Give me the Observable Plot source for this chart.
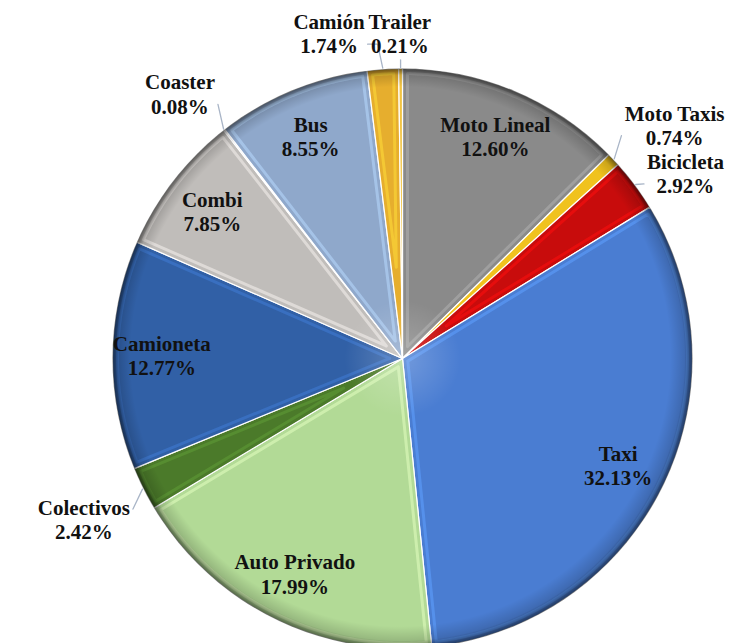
<!DOCTYPE html>
<html><head><meta charset="utf-8">
<script src="https://cdn.jsdelivr.net/npm/d3@7"></script>
<script src="https://cdn.jsdelivr.net/npm/@observablehq/plot@0.6"></script>
<style>
body{margin:0;background:#fff}
#chart svg text{font-family:"Liberation Serif","Times New Roman",serif !important;font-weight:bold;}
</style>
</head><body><div id="chart"></div>
<script>
// ---- data (clockwise from 12 o'clock) ----
const categories = ["Moto Lineal","Moto Taxis","Bicicleta","Taxi","Auto Privado","Colectivos","Camioneta","Combi","Coaster","Bus","Camión","Trailer"];
const shares = [12.60, 0.74, 2.92, 32.13, 17.99, 2.42, 12.77, 7.85, 0.08, 8.55, 1.74, 0.21];
const colors = ["#8a8a8a","#f0c21e","#c80c0c","#4a7dd2","#b2da96","#4b7a2a","#3160a6","#c0bdba","#cfcfcf","#8fa8cb","#e6ae2e","#f2c443"];

// ---- layout ----
const W = 743, H = 643, CX = 402, CY = 358, R = 290;
const FS = 21, LH = 1.15;
const total = d3.sum(shares);
const pt = (a, r) => [CX + r * Math.sin(a), CY - r * Math.cos(a)];
const ctx = document.createElement("canvas").getContext("2d");
ctx.font = `bold ${FS}px 'Liberation Serif', serif`;
const clamp = v => Math.max(-1, Math.min(1, v));

let acc = 0;
const slices = categories.map((name, i) => {
  const a0 = acc / total * 2 * Math.PI; acc += shares[i];
  const a1 = acc / total * 2 * Math.PI;
  return {name, share: shares[i], color: colors[i], a0, a1, mid: (a0 + a1) / 2};
});

// slice polygons
const slicePts = [];
const hiPts = [];
for (const s of slices) {
  const n = Math.max(2, Math.ceil((s.a1 - s.a0) / (Math.PI / 360)));
  slicePts.push({name: s.name, x: CX, y: CY, color: s.color});
  for (let k = 0; k <= n; k++) {
    const [x, y] = pt(s.a0 + (s.a1 - s.a0) * k / n, R);
    slicePts.push({name: s.name, x, y, color: s.color});
  }
  slicePts.push({name: s.name, x: CX, y: CY, color: s.color});
  // bevel highlight (inset outline)
  const half = (s.a1 - s.a0) / 2;
  if (half > 0.04) {
    const inset = 5, d = Math.min(R * 0.4, inset / Math.sin(Math.min(half, Math.PI / 2)));
    const [ax, ay] = pt(s.mid, d);
    const del = inset / (R - inset);
    const hc = d3.color(s.color).brighter(0.7).formatHex();
    hiPts.push({name: s.name, x: ax, y: ay, color: hc});
    const m = Math.max(2, Math.ceil((s.a1 - s.a0 - 2 * del) / (Math.PI / 360)));
    for (let k = 0; k <= m; k++) {
      const [x, y] = pt(s.a0 + del + (s.a1 - s.a0 - 2 * del) * k / m, R - inset);
      hiPts.push({name: s.name, x, y, color: hc});
    }
    hiPts.push({name: s.name, x: ax, y: ay, color: hc});
  }
}

// labels
const labels = slices.map(s => {
  const outside = s.share < 5;
  const pct = s.share.toFixed(2) + "%";
  const text = `${s.name}\n${pct}`;
  const w = Math.max(ctx.measureText(s.name).width, ctx.measureText(pct).width);
  const h = 2 * FS * LH;
  let x, y;
  if (outside) {
    const [ax, ay] = pt(s.mid, R + 15);
    x = ax + clamp(Math.sin(s.mid) / 0.35) * w / 2;
    y = ay + clamp(-Math.cos(s.mid) / 0.35) * h / 2;
    y = Math.max(y, h / 2 + 9);
  } else {
    [x, y] = pt(s.mid, R * 0.83);
  }
  const fromTop = Math.min(s.mid, 2 * Math.PI - s.mid);
  return {name: s.name, text, outside, x, y, w, h, mid: s.mid, fromTop};
});
// dodge overlapping outside labels: the one farther from 12 o'clock moves
const outs = labels.filter(d => d.outside);
for (let it = 0; it < 60; it++) {
  for (let i = 0; i < outs.length; i++) for (let j = i + 1; j < outs.length; j++) {
    const a = outs[i], b = outs[j];
    const dx = b.x - a.x, dy = b.y - a.y;
    const ox = (a.w + b.w) / 2 + 4 - Math.abs(dx), oy = (a.h + b.h) / 2 - Math.abs(dy);
    if (ox > 0 && oy > 0) {
      const wa = a.fromTop > b.fromTop ? 1 : 0, wb = 1 - wa;
      if (ox < oy) { const s = (dx >= 0 ? 1 : -1) * ox; a.x -= s * wa; b.x += s * wb; }
      else { const s = (dy >= 0 ? 1 : -1) * oy; a.y -= s * wa; b.y += s * wb; }
    }
  }
}
// leader lines
const leaderPts = [];
for (const d of outs) {
  const [sx, sy] = pt(d.mid, R + 1);
  const left = d.x - d.w / 2, right = d.x + d.w / 2, top = d.y - d.h / 2, bottom = d.y + d.h / 2;
  if (sx >= left - 4 && sx <= right + 4) {
    const ey = sy > d.y ? bottom + 2 : top - 2;
    if (Math.abs(sy - ey) > 6) leaderPts.push({name: d.name, x: sx, y: ey}, {name: d.name, x: sx, y: sy});
  } else {
    const side = sx > right ? 1 : -1;
    const ex = side > 0 ? right + 3 : left - 3;
    const ey = Math.min(bottom - 2, Math.max(top + 2, d.y + (sy > d.y ? 1 : -1) * FS * 0.5));
    const kx = ex + side * 10;
    if (Math.abs(sx - ex) > 12) leaderPts.push({name: d.name, x: ex, y: ey}, {name: d.name, x: kx, y: ey}, {name: d.name, x: sx, y: sy});
    else leaderPts.push({name: d.name, x: ex, y: ey}, {name: d.name, x: sx, y: sy});
  }
}

const defs = () => {
  const ns = "http://www.w3.org/2000/svg";
  const g = document.createElementNS(ns, "defs");
  g.innerHTML = `<radialGradient id="rim" cx="50%" cy="50%" r="50%" fx="45%" fy="45%">
      <stop offset="0" stop-color="#000" stop-opacity="0"/>
      <stop offset="0.93" stop-color="#000" stop-opacity="0"/>
      <stop offset="0.975" stop-color="#000" stop-opacity="0.15"/>
      <stop offset="1" stop-color="#000" stop-opacity="0.55"/>
    </radialGradient>
    <radialGradient id="glow" cx="50%" cy="50%" r="50%">
      <stop offset="0" stop-color="#fff" stop-opacity="0.22"/>
      <stop offset="0.2" stop-color="#fff" stop-opacity="0"/>
      <stop offset="1" stop-color="#fff" stop-opacity="0"/>
    </radialGradient>`;
  return g;
};

const chart = Plot.plot({
  width: W, height: H, margin: 0,
  style: {fontFamily: "'Liberation Serif', serif"},
  x: {domain: [0, W], range: [0, W], axis: null},
  y: {domain: [0, H], range: [0, H], axis: null},
  color: {type: "identity"},
  marks: [
    defs,
    Plot.line(slicePts, {x: "x", y: "y", z: "name", fill: "color", stroke: "#fff", strokeWidth: 1.2, strokeLinejoin: "round"}),
    Plot.line(hiPts, {x: "x", y: "y", z: "name", stroke: "color", strokeWidth: 3, strokeOpacity: 0.55, strokeLinejoin: "round"}),
    Plot.dot([{x: CX, y: CY}], {x: "x", y: "y", r: R, fill: "url(#rim)", stroke: "none"}),
    Plot.dot([{x: CX, y: CY}], {x: "x", y: "y", r: R, fill: "url(#glow)", stroke: "none"}),
    Plot.line(leaderPts, {x: "x", y: "y", z: "name", stroke: "#a9b5c7", strokeWidth: 1.3}),
    Plot.text(labels, {x: "x", y: "y", text: "text", fontSize: FS, fontWeight: "bold", fontFamily: "Liberation Serif", fill: "#111", lineHeight: LH})
  ]
});
document.getElementById("chart").append(chart);
</script>
</body></html>
